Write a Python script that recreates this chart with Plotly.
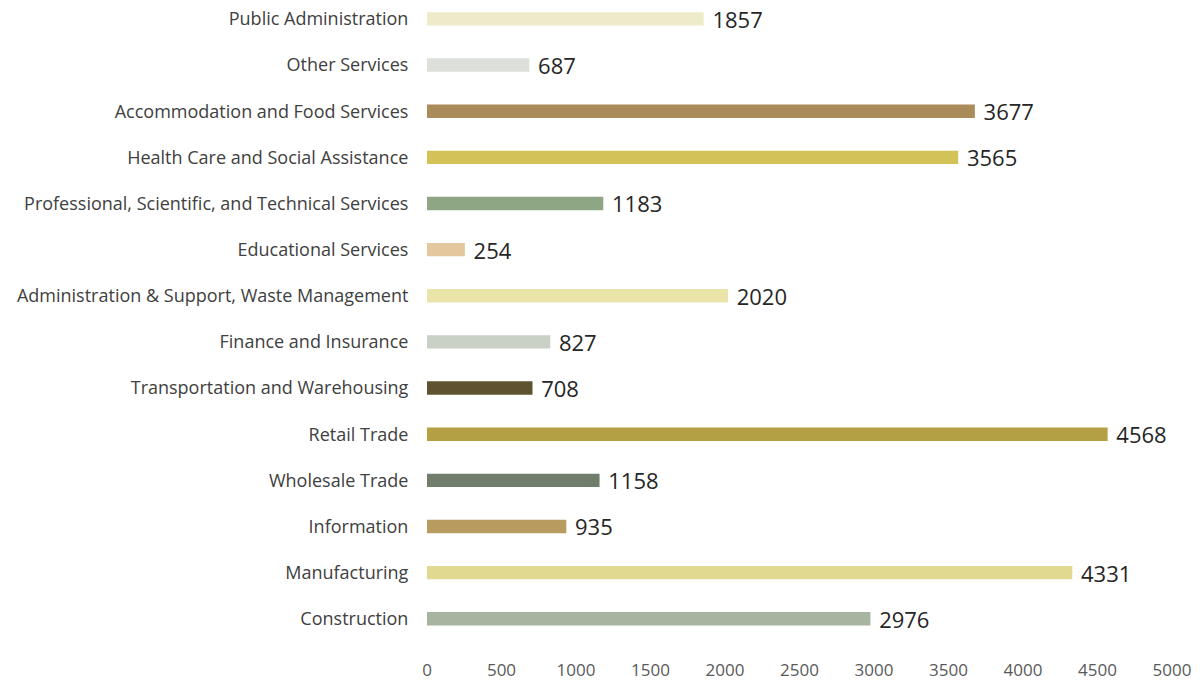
import plotly.graph_objects as go

# Industries, listed top to bottom
industries = [
    "Public Administration",
    "Other Services",
    "Accommodation and Food Services",
    "Health Care and Social Assistance",
    "Professional, Scientific, and Technical Services",
    "Educational Services",
    "Administration & Support, Waste Management",
    "Finance and Insurance",
    "Transportation and Warehousing",
    "Retail Trade",
    "Wholesale Trade",
    "Information",
    "Manufacturing",
    "Construction",
]

employees = [1857, 687, 3677, 3565, 1183, 254, 2020, 827, 708, 4568, 1158, 935, 4331, 2976]

bar_colors = [
    "#EDEBC9", "#DCDFDA", "#A98C5A", "#D3C257", "#8FA685", "#E4C79D", "#EBE4A8",
    "#C9D0C5", "#5F5230", "#B3A042", "#6F7D6A", "#B89B5F", "#E2D991", "#A7B4A0",
]

x_ticks = [0, 500, 1000, 1500, 2000, 2500, 3000, 3500, 4000, 4500, 5000]

fig = go.Figure(
    go.Bar(
        x=employees,
        y=industries,
        orientation="h",
        width=0.29,
        marker=dict(color=bar_colors, line=dict(width=0)),
        text=[f" {v}" for v in employees],
        textposition="outside",
        constraintext="none",
        textfont=dict(family="Open Sans", size=22, color="#262626"),
        cliponaxis=False,
        hoverinfo="skip",
    )
)

fig.update_layout(
    width=1203,
    height=682,
    margin=dict(l=427, r=31, t=0, b=24),
    paper_bgcolor="white",
    plot_bgcolor="white",
    showlegend=False,
    xaxis=dict(
        range=[0, 5000],
        tickvals=x_ticks,
        ticktext=[str(t) for t in x_ticks],
        showgrid=False,
        zeroline=False,
        showline=False,
        tickfont=dict(family="Open Sans", size=17, color="#595959"),
        ticks="",
    ),
    yaxis=dict(
        range=[13.85, -0.41],
        type="category",
        showgrid=False,
        zeroline=False,
        showline=False,
        ticks="outside",
        ticklen=14,
        tickcolor="rgba(0,0,0,0)",
        tickfont=dict(family="Open Sans", size=18, color="#404040"),
    ),
)

fig.write_html("out.html")
